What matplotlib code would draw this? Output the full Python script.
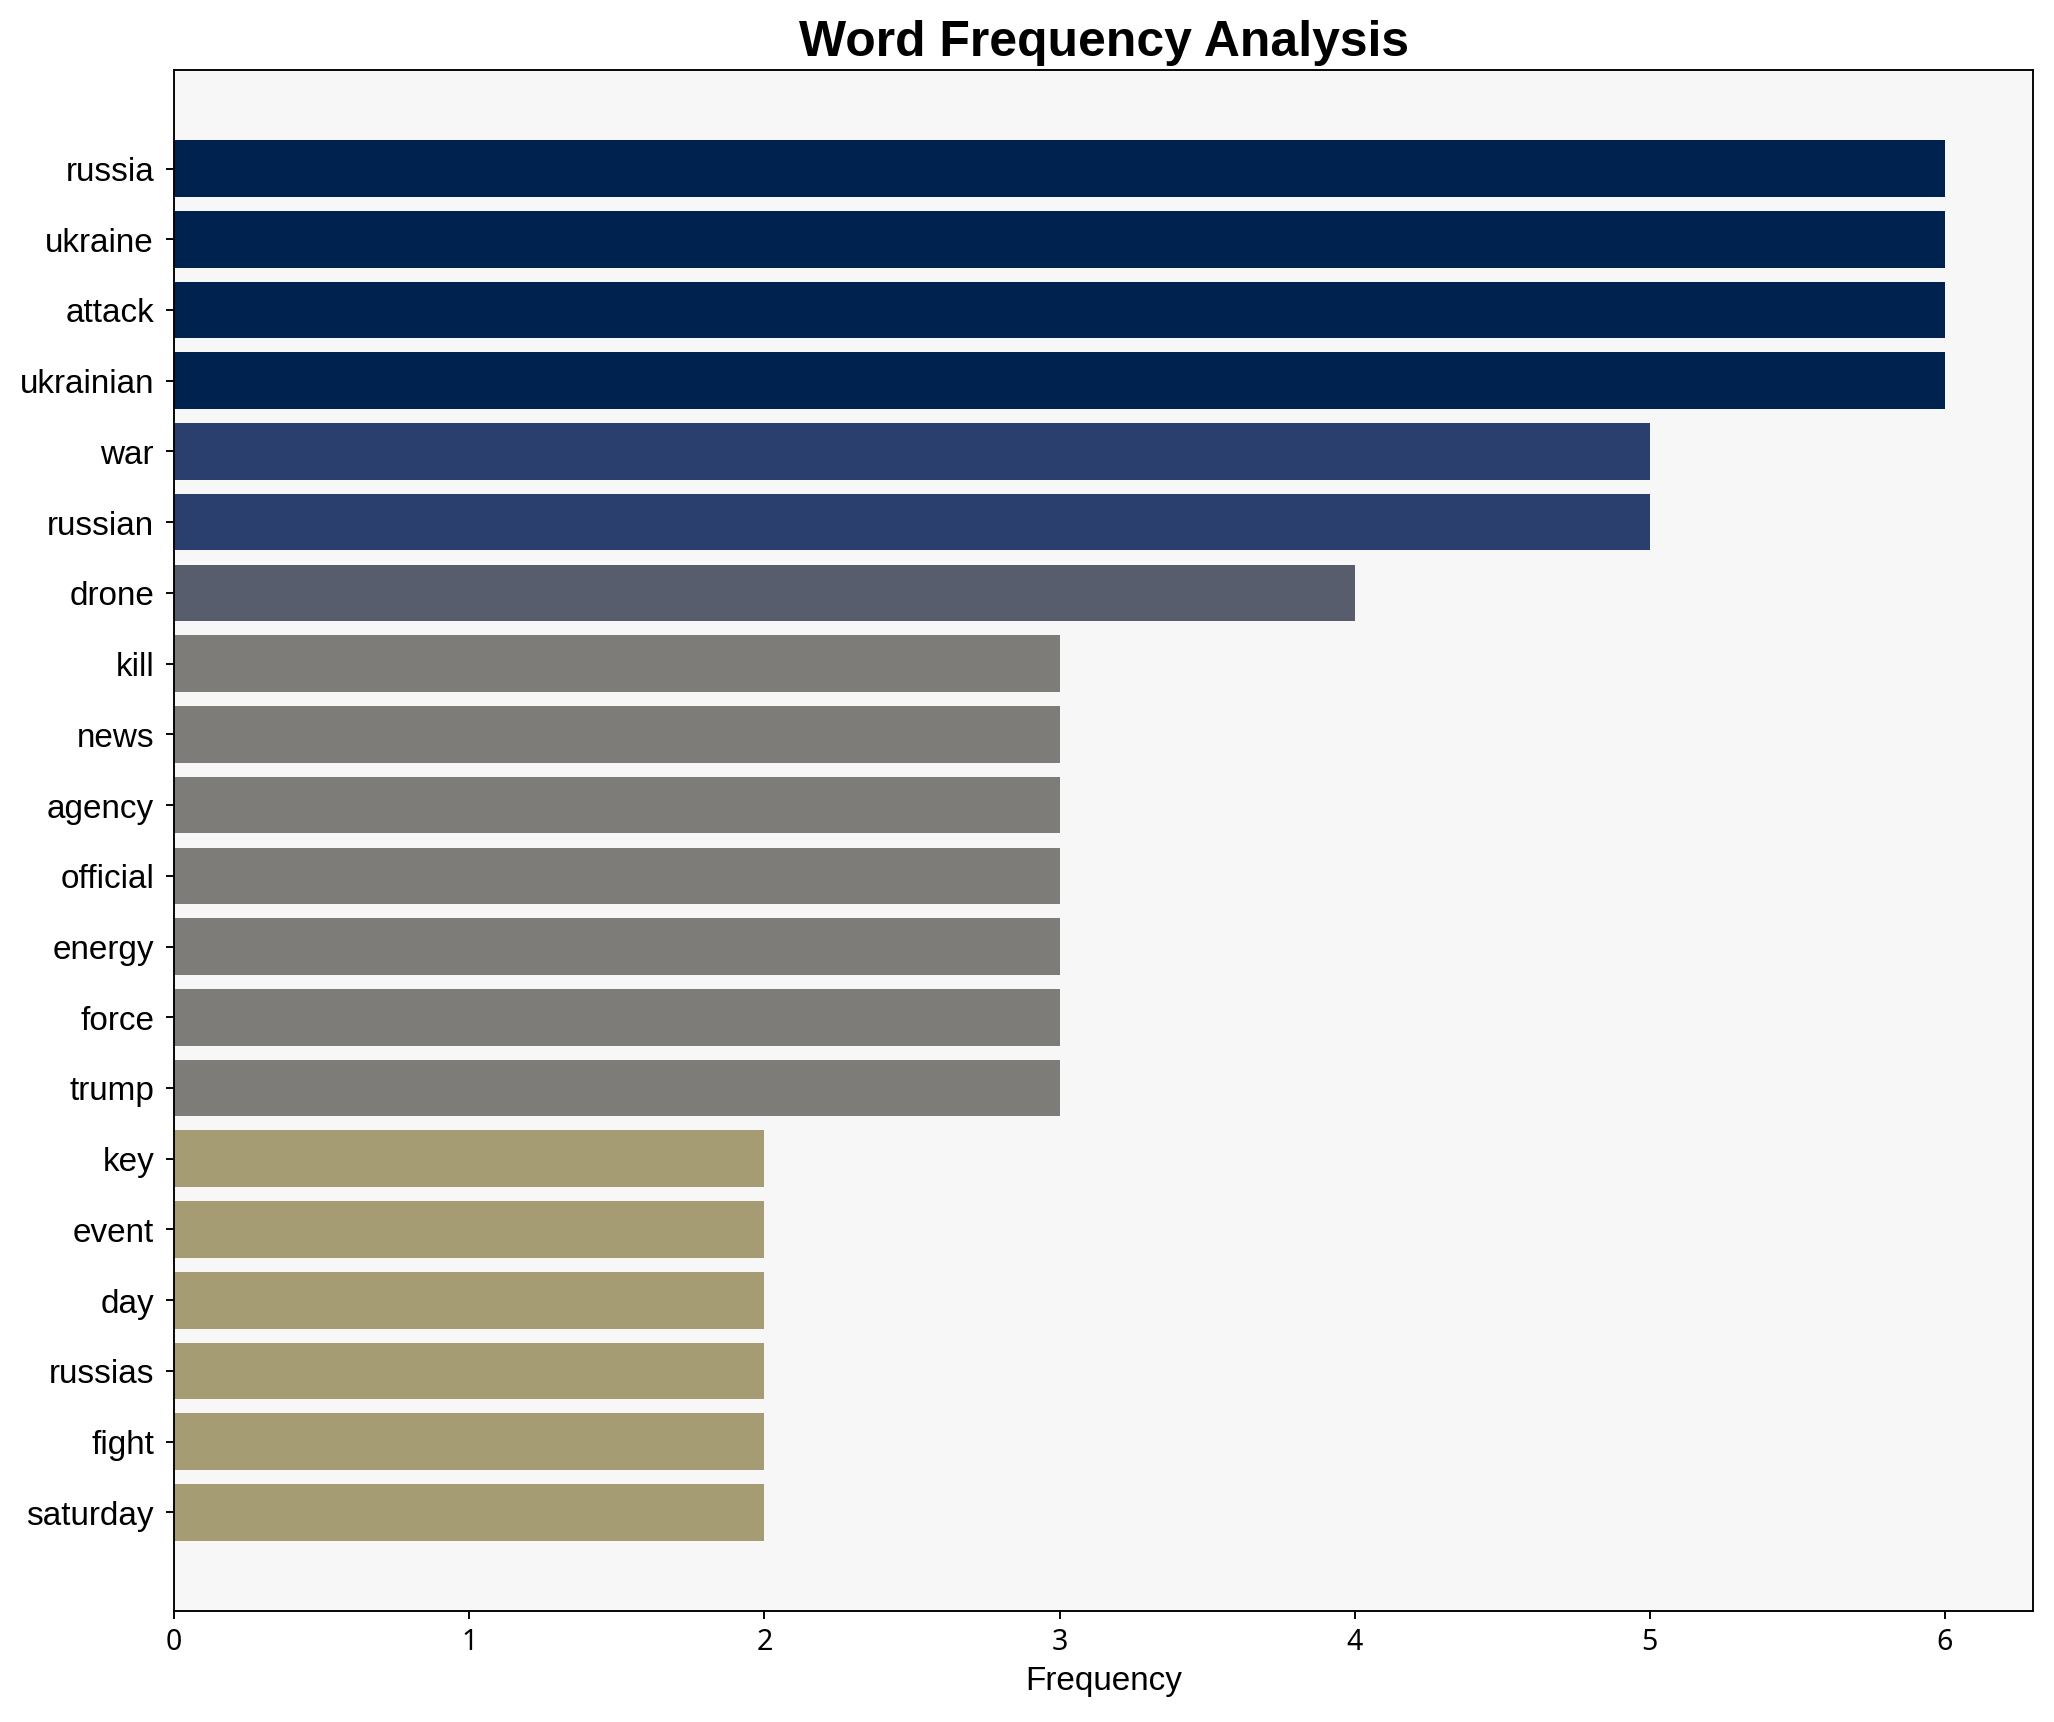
import matplotlib
matplotlib.use("Agg")
import matplotlib.pyplot as plt

words = ["russia", "ukraine", "attack", "ukrainian", "war", "russian", "drone",
         "kill", "news", "agency", "official", "energy", "force", "trump",
         "key", "event", "day", "russias", "fight", "saturday"]
counts = [6, 6, 6, 6, 5, 5, 4, 3, 3, 3, 3, 3, 3, 3, 2, 2, 2, 2, 2, 2]

plt.rcParams['font.family'] = ['Liberation Sans', 'DejaVu Sans']

fig = plt.figure(figsize=(2054.4 / 171, 1722.4 / 171), dpi=171)
ax = fig.add_axes([0.0848, 0.0646, 0.905, 0.8944])
ax.set_facecolor('#f7f7f7')

top = max(counts)
colors = [plt.cm.cividis(1 - c / top) for c in counts]
pos = list(range(len(words)))
ax.barh(pos, counts, color=colors, height=0.8)
ax.set_yticks(pos)
ax.set_yticklabels(words, fontsize=14)
ax.tick_params(axis='y', pad=5)
ax.invert_yaxis()
ax.set_xlim(0, 6.3)

for lbl in ax.get_xticklabels():
    lbl.set_family('Noto Sans')
    lbl.set_fontsize(12)
ax.set_xlabel('Frequency', fontsize=14)
ax.set_title('Word Frequency Analysis', fontsize=21, fontweight='bold')

fig.savefig('out.png', dpi=171)
